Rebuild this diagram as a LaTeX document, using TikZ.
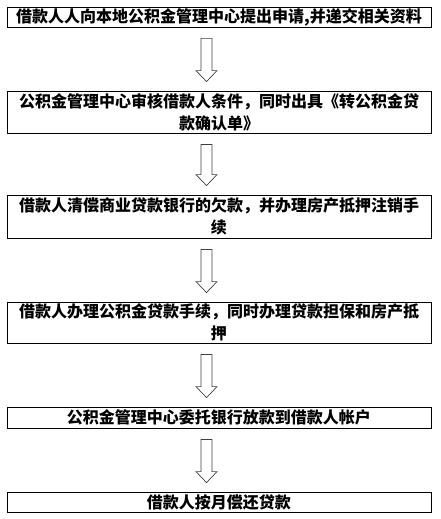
\documentclass[tikz,border=0pt]{standalone}
\usepackage{fontspec}
\newfontfamily\cjk{Noto Sans CJK SC}
\usetikzlibrary{calc,positioning}

\tikzset{
  x=1pt, y=1pt,
  stepbox/.style={draw, line width=0.8pt, inner sep=0pt, minimum width=424pt,
    text width=420pt, align=center, font=\cjk\bfseries\fontsize{16}{22}\selectfont},
  hollowarrow/.style={draw=black!75, line width=0.7pt, line join=miter},
}

% hollow block arrow from the box #1 down to the box #2
\newcommand{\flowarrow}[2]{%
  \draw [hollowarrow] let \p1=($(#1.south)+(-12.5,-11)$), \p2=($(#2.north)+(-12.5,9)$) in
    (\x1-5.5pt,\y1) -- (\x1+5.5pt,\y1) -- (\x1+5.5pt,\y2+11pt) -- (\x1+10.5pt,\y2+11pt)
    -- (\x1,\y2) -- (\x1-10.5pt,\y2+11pt) -- (\x1-5.5pt,\y2+11pt) -- cycle;}

\begin{document}
\begin{tikzpicture}
  \useasboundingbox (0,0) rectangle (441,-519);

  % Drawing box apply
  \node [stepbox, minimum height=20pt] (apply) at (219,-17)
    {借款人人向本地公积金管理中心提出申请,并递交相关资料};

  % Drawing box review
  \node [stepbox, minimum height=42pt] (review) at (219,-112)
    {公积金管理中心审核借款人条件，同时出具《转公积金贷\\款确认单》};

  % Drawing box repay
  \node [stepbox, minimum height=43pt] (repay) at (219,-216.5)
    {借款人清偿商业贷款银行的欠款，并办理房产抵押注销手\\续};

  % Drawing box mortgage
  \node [stepbox, minimum height=41pt] (mortgage) at (219,-322.5)
    {借款人办理公积金贷款手续，同时办理贷款担保和房产抵\\押};

  % Drawing box release
  \node [stepbox, minimum height=21pt] (release) at (219,-417.5)
    {公积金管理中心委托银行放款到借款人帐户};

  % Drawing box monthly
  \node [stepbox, minimum height=20pt] (monthly) at (219,-502)
    {借款人按月偿还贷款};

  % Drawing arrows
  \flowarrow{apply}{review}
  \flowarrow{review}{repay}
  \flowarrow{repay}{mortgage}
  \flowarrow{mortgage}{release}
  \flowarrow{release}{monthly}
\end{tikzpicture}
\end{document}
